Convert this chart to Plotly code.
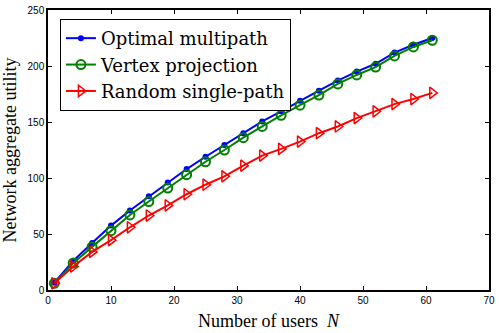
import plotly.graph_objects as go

users = [1, 4, 7, 10, 13, 16, 19, 22, 25, 28, 31, 34, 37, 40, 43, 46, 49, 52, 55, 58, 61]
optimal_multipath = [6.5, 26, 42, 57.5, 71, 83.6, 96, 108, 119, 129.5, 140, 150.5, 159.5, 169, 178, 187, 195, 202, 212, 219, 225]
vertex_projection = [6, 24, 38.5, 53, 67, 79, 91, 103, 114.5, 125, 136, 146, 156, 165, 174, 184, 192, 199, 209, 217, 223]
random_single_path = [6, 21, 34, 44.5, 56, 66.5, 75.5, 85.5, 94, 101.5, 111, 120, 126, 132.5, 140, 146, 153.5, 159.5, 166, 170.5, 176]

serif = "Liberation Serif"
legend_serif = "DejaVu Serif"
sans = "Liberation Sans"

fig = go.Figure()
fig.add_trace(go.Scatter(x=users, y=optimal_multipath, mode="lines+markers", name="Optimal multipath",
                         line=dict(color="#0000ff", width=2),
                         marker=dict(symbol="circle", size=6, color="#0000ff")))
fig.add_trace(go.Scatter(x=users, y=vertex_projection, mode="lines+markers", name="Vertex projection",
                         line=dict(color="#008000", width=2),
                         marker=dict(symbol="circle-open", size=9, color="#008000", line=dict(width=2))))
fig.add_trace(go.Scatter(x=users, y=random_single_path, mode="lines+markers", name="Random single-path",
                         line=dict(color="#ff0000", width=2),
                         marker=dict(symbol="triangle-right-open", size=10, color="#ff0000", line=dict(width=1.5))))

axis_common = dict(showgrid=False, zeroline=False, showline=True, linecolor="black", linewidth=1.5,
                   mirror="ticks", ticks="inside", ticklen=4, tickcolor="black",
                   tickfont=dict(family=sans, size=10, color="black"))

fig.update_xaxes(range=[0, 70], dtick=10, **axis_common,
                 title=dict(text="Number of users  <i>N</i>", font=dict(family=serif, size=18, color="black"), standoff=10))
fig.update_yaxes(range=[0, 250], dtick=50, **axis_common,
                 title=dict(text="Network aggregate utility", font=dict(family=serif, size=18, color="black"), standoff=8))

fig.update_layout(
    width=499, height=333,
    margin=dict(l=48, r=4, t=9, b=43),
    plot_bgcolor="white", paper_bgcolor="white",
    font=dict(family=serif),
    legend=dict(x=0.027, y=0.968, xanchor="left", yanchor="top",
                bgcolor="white", bordercolor="black", borderwidth=1,
                font=dict(family=legend_serif, size=18, color="black"),
                tracegroupgap=0, itemwidth=30),
    showlegend=True,
)

fig.write_html("out.html", config={"displayModeBar": False},
               post_script="document.body.style.margin='0';")
